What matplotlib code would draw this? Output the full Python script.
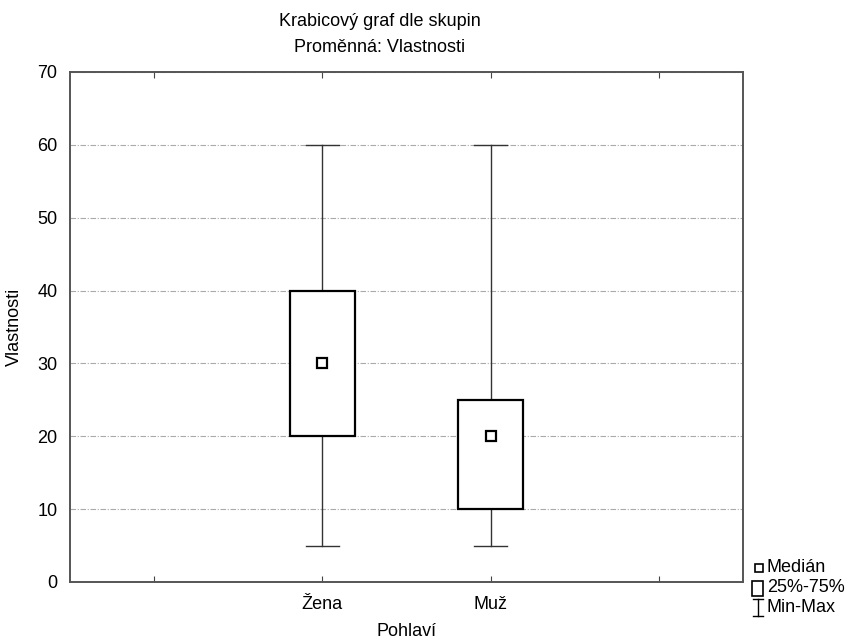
import matplotlib
matplotlib.use("Agg")
import matplotlib.pyplot as plt
from matplotlib.lines import Line2D
from matplotlib.patches import Rectangle

plt.rcParams["font.family"] = ["Liberation Sans", "DejaVu Sans"]

# ── Data ──────────────────────────────────────────────────────────────────────
groups  = ["Žena", "Muž"]
medians = [30, 20]
q25     = [20, 10]
q75     = [40, 25]
mins    = [5, 5]
maxs    = [60, 60]
positions = [2, 3]
tick_pos  = [1, 2, 3, 4]
tick_lbls = ["", "Žena", "Muž", ""]
legend_lbls = ["Medián", "25%-75%", "Min-Max"]

FS = 13

fig = plt.figure(figsize=(8.53, 6.41), dpi=100)
ax = fig.add_axes([70 / 853, 1 - 582 / 641, 673 / 853, 510 / 641])

BOX_W = 0.39
CAP_W = 0.2

for x, md, lo, hi, mn, mx in zip(positions, medians, q25, q75, mins, maxs):
    # whiskers
    ax.plot([x, x], [mn, lo], color="#333333", lw=1.0, zorder=2)
    ax.plot([x, x], [hi, mx], color="#333333", lw=1.0, zorder=2)
    ax.plot([x - CAP_W / 2, x + CAP_W / 2], [mn, mn], color="#333333", lw=1.0, zorder=2)
    ax.plot([x - CAP_W / 2, x + CAP_W / 2], [mx, mx], color="#333333", lw=1.0, zorder=2)
    # box
    ax.add_patch(Rectangle((x - BOX_W / 2, lo), BOX_W, hi - lo,
                           facecolor="white", edgecolor="black", lw=1.6, zorder=3))
    # median
    ax.plot(x, md, marker="s", ms=6.5, mfc="white", mec="black", mew=1.6, zorder=4)

ax.set_xlim(0.5, 4.5)
ax.set_ylim(0, 70)
ax.set_yticks(range(0, 71, 10))
ax.set_xticks(tick_pos)
ax.set_xticklabels(tick_lbls)
ax.tick_params(axis="both", direction="in", labelsize=FS, length=4, color="#444444",
               top=True, right=False)
ax.tick_params(axis="y", length=0, pad=9)
ax.tick_params(axis="x", pad=10)
ax.yaxis.grid(True, color="#aaaaaa", ls=(0, (5, 1.5, 1, 1.5)), lw=0.8)
ax.set_axisbelow(True)
for sp in ax.spines.values():
    sp.set_color("#555555")
    sp.set_linewidth(1.4)

ax.set_ylabel("Vlastnosti", fontsize=FS, labelpad=10)
ax.set_xlabel("")
fig.text(407 / 853, 1 - 631 / 641, "Pohlaví", ha="center", va="center", fontsize=FS)

fig.text(380 / 853, 1 - 22 / 641, "Krabicový graf dle skupin", ha="center", va="center", fontsize=FS)
fig.text(380 / 853, 1 - 47 / 641, "Proměnná: Vlastnosti", ha="center", va="center", fontsize=FS)

# ── legend (drawn in pixel coords of the figure) ─────────────────────────────
def px(x, y):
    return x / 853, 1 - y / 641

# median square
fig.add_artist(Rectangle(px(755, 572), 8 / 853, 8 / 641, transform=fig.transFigure,
                         facecolor="white", edgecolor="black", lw=1.2))
# box
fig.add_artist(Rectangle(px(752, 596), 11 / 853, 15 / 641, transform=fig.transFigure,
                         facecolor="white", edgecolor="black", lw=1.2))
# min-max I
for xs, ys in [([758, 758], [599, 616]), ([753, 763], [599, 599]), ([753, 763], [616, 616])]:
    fig.add_artist(Line2D([x / 853 for x in xs], [1 - y / 641 for y in ys],
                          transform=fig.transFigure, color="black", lw=1.0))
for y, lbl in zip([567, 587, 607], legend_lbls):
    fig.text(767 / 853, 1 - y / 641, lbl, ha="left", va="center", fontsize=FS)

fig.savefig("out.png", dpi=100)
